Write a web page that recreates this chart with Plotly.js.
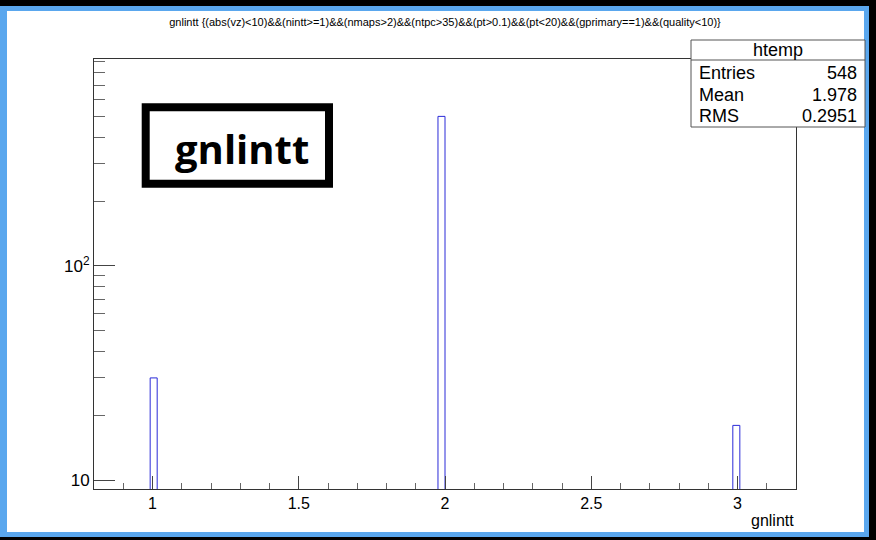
<!DOCTYPE html>
<html>
<head>
<meta charset="utf-8">
<script src="https://cdn.plot.ly/plotly-3.0.1.min.js"></script>
<style>
  html, body { margin: 0; padding: 0; background: #000; }
  #wrap { position: relative; width: 876px; height: 540px; overflow: hidden; background: #000; }
  #blue { position: absolute; left: 0; top: 6px; width: 869px; height: 531px; background: #5aa7ee; }
  #white { position: absolute; left: 7px; top: 11px; width: 857px; height: 521px; background: #fff; }
  #chart { position: absolute; left: 0; top: 0; width: 876px; height: 540px; }
</style>
</head>
<body>
<div id="wrap">
  <div id="blue"></div>
  <div id="white"></div>
  <div id="chart"></div>
</div>
<script>
// Histogram data (bin centers and counts)
const binCenters = [1.004, 1.988, 2.996];
const counts = [30, 500, 18];
const binWidth = 0.024;

// Axis ticks
const yTickVals = [10, 100];
const yTickText = ['10', '10<sup>2</sup>'];
const yMinorVals = [20, 30, 40, 50, 60, 70, 80, 90, 200, 300, 400, 500, 600, 700, 800, 900];

// Text
const titleText = 'gnlintt {(abs(vz)&lt;10)&amp;&amp;(nintt&gt;=1)&amp;&amp;(nmaps&gt;2)&amp;&amp;(ntpc&gt;35)&amp;&amp;(pt&gt;0.1)&amp;&amp;(pt&lt;20)&amp;&amp;(gprimary==1)&amp;&amp;(quality&lt;10)}';
const statsName = 'htemp';
const statsLabels = ['Entries', 'Mean', 'RMS'];
const statsValues = ['548', '1.978', '0.2951'];
const xTitle = 'gnlintt';
const boxLabel = 'gnlintt';

const FONT = 'Liberation Sans, Arial, Helvetica, sans-serif';
const W = 876, H = 540, L = 94, R = 80, T = 59, B = 51;
const PW = W - L - R, PH = H - T - B;
const px = v => (v - L) / PW;
const py = v => (H - B - v) / PH;

const trace = {
  type: 'bar',
  x: binCenters,
  y: counts,
  width: binWidth,
  marker: { color: 'rgba(0,0,0,0)', line: { color: '#2a2ad8', width: 1 } },
  hoverinfo: 'x+y'
};

const annotations = [];
const shapes = [];

// stats box
shapes.push({ type: 'rect', xref: 'paper', yref: 'paper', x0: px(691), x1: px(865), y0: py(127), y1: py(40),
  fillcolor: '#fff', line: { color: '#555', width: 1 }, layer: 'above' });
shapes.push({ type: 'line', xref: 'paper', yref: 'paper', x0: px(691), x1: px(865), y0: py(60), y1: py(60),
  line: { color: '#555', width: 1 }, layer: 'above' });
annotations.push({ xref: 'paper', yref: 'paper', x: px(778), y: py(50), text: statsName, showarrow: false,
  xanchor: 'center', yanchor: 'middle', font: { family: FONT, size: 18, color: '#000' } });
const rowY = [73, 95, 116];
statsLabels.forEach((lab, i) => {
  annotations.push({ xref: 'paper', yref: 'paper', x: px(697), y: py(rowY[i]), text: lab, showarrow: false,
    xanchor: 'left', yanchor: 'middle', font: { family: FONT, size: 18, color: '#000' } });
  annotations.push({ xref: 'paper', yref: 'paper', x: px(859), y: py(rowY[i]), text: statsValues[i], showarrow: false,
    xanchor: 'right', yanchor: 'middle', font: { family: FONT, size: 18, color: '#000' } });
});

// label box
shapes.push({ type: 'rect', xref: 'paper', yref: 'paper', x0: px(145.7), x1: px(329), y0: py(183.7), y1: py(107.3),
  fillcolor: '#fff', line: { color: '#000', width: 8 }, layer: 'above' });
annotations.push({ xref: 'paper', yref: 'paper', x: px(242), y: py(148), text: '<b>' + boxLabel + '</b>', showarrow: false,
  xanchor: 'center', yanchor: 'middle', font: { family: 'Open Sans, Noto Sans, sans-serif', size: 40, color: '#000' } });

// x axis title
annotations.push({ xref: 'paper', yref: 'paper', x: px(796), y: py(520), text: xTitle, showarrow: false,
  xanchor: 'right', yanchor: 'middle', font: { family: FONT, size: 16, color: '#000' } });

const layout = {
  width: W, height: H,
  margin: { l: L, r: R, t: T, b: B, pad: 0 },
  paper_bgcolor: 'rgba(0,0,0,0)',
  plot_bgcolor: '#fff',
  showlegend: false,
  title: { text: titleText, x: 445 / W, y: 1 - 22 / H, xanchor: 'center', yanchor: 'middle', xref: 'container', yref: 'container',
    font: { family: FONT, size: 11, color: '#000' } },
  xaxis: {
    range: [0.8, 3.2], tickmode: 'linear', tick0: 0, dtick: 0.5,
    ticks: 'inside', ticklen: 13, tickwidth: 1, tickcolor: '#444',
    minor: { tickmode: 'linear', tick0: 0, dtick: 0.1, ticks: 'inside', ticklen: 6, tickwidth: 1, tickcolor: '#666', showgrid: false },
    showline: true, linecolor: '#333', linewidth: 1, mirror: true,
    showgrid: false, zeroline: false,
    tickfont: { family: FONT, size: 16, color: '#000' }
  },
  yaxis: {
    type: 'log', range: [Math.log10(9.08), Math.log10(927)],
    tickmode: 'array', tickvals: yTickVals, ticktext: yTickText,
    ticks: 'inside', ticklen: 21, tickwidth: 1, tickcolor: '#444',
    minor: { tickmode: 'array', tickvals: yMinorVals, ticks: 'inside', ticklen: 11, tickwidth: 1, tickcolor: '#666', showgrid: false },
    showline: true, linecolor: '#333', linewidth: 1, mirror: true,
    showgrid: false, zeroline: false,
    tickfont: { family: FONT, size: 17, color: '#000' }
  },
  shapes: shapes,
  annotations: annotations
};

Plotly.newPlot('chart', [trace], layout, { displayModeBar: false, staticPlot: true });
</script>
</body>
</html>
